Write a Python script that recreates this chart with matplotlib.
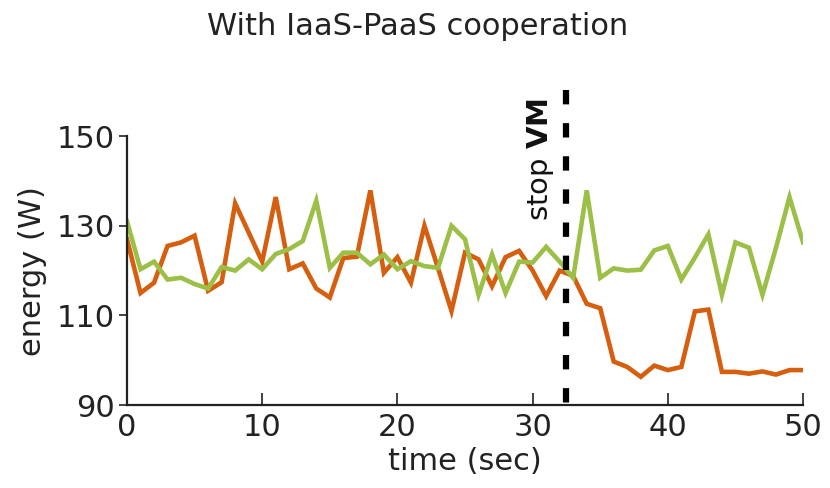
import numpy as np
import matplotlib
matplotlib.use('Agg')
import matplotlib.pyplot as plt

# power draw per second, 0..50 s
time_sec = np.arange(0, 51)
energy_orange = [127, 115, 117.3, 125.5, 126.3, 127.8, 115.5, 117.4, 135, 128.5,
                 122, 136.4, 120.3, 121.6, 116, 114, 122.8, 123.1, 137.9, 119.5,
                 123, 117.3, 130, 120.6, 111, 124, 122.5, 116.5, 123, 124.4,
                 120, 114.3, 120, 118.8, 112.6, 111.6, 99.7, 98.5, 96.3, 98.8,
                 97.8, 98.5, 110.9, 111.3, 97.4, 97.4, 97, 97.5, 96.8, 97.8,
                 97.8]
energy_green = [131, 120.3, 122, 118, 118.4, 117, 116, 120.8, 120, 122.5,
                120.3, 123.7, 124.8, 126.6, 135.6, 120.6, 124, 124, 121.4, 123.6,
                120.3, 122.1, 121, 120.6, 130, 127, 114.6, 123.6, 115, 122,
                121.8, 125.3, 122, 118.4, 137.9, 118.4, 120.5, 120, 120.2, 124.5,
                125.5, 118, 122.9, 128.1, 114.6, 126.3, 125.1, 114.6, 125.1, 136.4,
                126.3]
stop_vm_time = 32.5

fig = plt.figure(figsize=(8.3, 4.88), dpi=100)
ax = fig.add_axes([0.153, 0.170, 0.8145, 0.551])

ax.plot(time_sec, energy_orange, color='#d55e0f', lw=3.3, solid_joinstyle='miter')
ax.plot(time_sec, energy_green, color='#9cc047', lw=3.3, solid_joinstyle='miter')

# VM stop marker, runs above the plot area
ax.plot([stop_vm_time, stop_vm_time], [160.3, 90], color='black', lw=4.5,
        linestyle=(0, (2.3, 3.0)), clip_on=False, solid_capstyle='butt',
        dash_capstyle='butt')
ax.text(31.7, 131.0, 'stop $\\mathbf{VM}$', rotation=90, ha='right', va='bottom',
        fontsize=21, color='#111111')

ax.set_xlim(0, 50)
ax.set_ylim(90, 150)
ax.set_xticks([0, 10, 20, 30, 40, 50])
ax.set_yticks([90, 110, 130, 150])

for side in ['top', 'right']:
    ax.spines[side].set_visible(False)
for side in ['left', 'bottom']:
    ax.spines[side].set_linewidth(1.6)
    ax.spines[side].set_color('#222222')

ax.tick_params(axis='x', direction='in', length=9, width=1.2, labelsize=22,
               pad=6, colors='#222222')
ax.tick_params(axis='y', direction='out', length=6, width=1.2, labelsize=22,
               pad=3, colors='#222222')

ax.set_xlabel('time (sec)', fontsize=22, color='#222222', labelpad=3)
ax.set_ylabel('energy (W)', fontsize=22, color='#222222', labelpad=7)

fig.text(0.503, 0.945, 'With IaaS-PaaS cooperation', ha='center', va='center',
         fontsize=22, color='#222222')

fig.savefig('out.png', dpi=100)
